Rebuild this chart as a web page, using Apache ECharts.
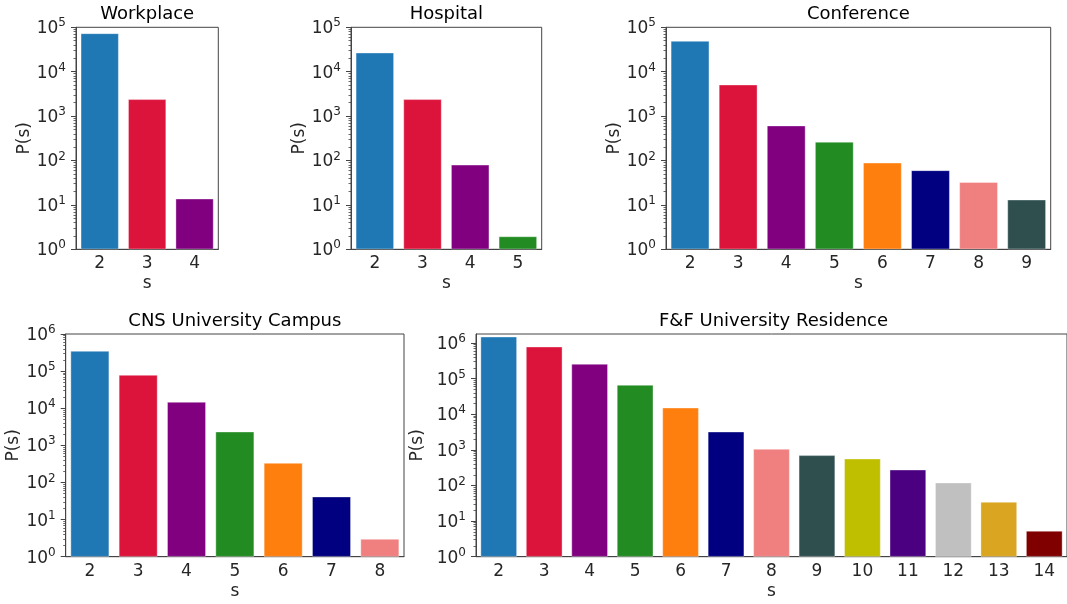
<!DOCTYPE html>
<html>
<head>
<meta charset="utf-8">
<title>Group size distributions P(s)</title>
<script src="https://cdn.jsdelivr.net/npm/echarts@6/dist/echarts.min.js"></script>
<style>
  html, body { margin: 0; padding: 0; background: #fff; }
  #chart { width: 1067px; height: 604px; }
</style>
</head>
<body>
<div id="chart"></div>
<script>
// Group sizes s and number of groups P(s) per dataset
const workplaceSizes = ['2', '3', '4'];
const workplaceCounts = [73000, 2390, 13.8];

const hospitalSizes = ['2', '3', '4', '5'];
const hospitalCounts = [26800, 2390, 80, 1.95];

const conferenceSizes = ['2', '3', '4', '5', '6', '7', '8', '9'];
const conferenceCounts = [49000, 5100, 610, 262, 89, 60, 32.5, 13.1];

const cnsSizes = ['2', '3', '4', '5', '6', '7', '8'];
const cnsCounts = [348000, 78500, 14700, 2330, 334, 41.5, 3.0];

const ffSizes = ['2', '3', '4', '5', '6', '7', '8', '9', '10', '11', '12', '13', '14'];
const ffCounts = [1510000, 792000, 259000, 66500, 15300, 3240, 1060, 705, 566, 278, 120, 34.4, 5.3];

// One colour per group size, starting at s = 2
const sizeColors = ['#1f77b4', '#dc143c', '#800080', '#228b22', '#ff7f0e', '#000080',
  '#f08080', '#2f4f4f', '#bfbf00', '#4b0082', '#c0c0c0', '#daa520', '#800000'];

// Upper limits of the P(s) axes
const topRowMax = 1e5;
const cnsMax = 1e6;
const ffMax = 1.8e6;

const FONT = 'DejaVu Sans';
const INK = '#262626';
const SPINE = '#444';
const LABEL_SIZE = 17;

const panels = [
  { title: 'Workplace', sizes: workplaceSizes, counts: workplaceCounts, max: topRowMax,
    box: { left: 76, top: 27.3, width: 142.3, height: 222 }, titleTop: 5.5 },
  { title: 'Hospital', sizes: hospitalSizes, counts: hospitalCounts, max: topRowMax,
    box: { left: 351, top: 27.3, width: 190.7, height: 222 }, titleTop: 5.5 },
  { title: 'Conference', sizes: conferenceSizes, counts: conferenceCounts, max: topRowMax,
    box: { left: 666, top: 27.3, width: 384.7, height: 222 }, titleTop: 5.5 },
  { title: 'CNS University Campus', sizes: cnsSizes, counts: cnsCounts, max: cnsMax,
    box: { left: 65.7, top: 334, width: 338.3, height: 222.7 }, titleTop: 312 },
  { title: 'F&F University Residence', sizes: ffSizes, counts: ffCounts, max: ffMax,
    box: { left: 476, top: 334, width: 595, height: 222.7 }, titleTop: 312 }
];

// Tick positions along log10 of the value axis
function majorTicks(top) {
  const out = [];
  for (let k = 0; k <= Math.floor(top); k++) out.push(k);
  return out;
}
function minorTicks(top) {
  const out = [];
  for (let k = 0; k <= Math.ceil(top); k++) {
    for (let m = 2; m <= 9; m++) {
      const v = k + Math.log10(m);
      if (v < top) out.push(v);
    }
  }
  return out;
}

const powerLabel = {
  formatter: function (value) {
    const e = Math.round(Math.log10(value));
    return '{b|10}{s|' + e + '}';
  },
  rich: {
    b: { fontFamily: FONT, fontSize: LABEL_SIZE, color: INK, lineHeight: 20, verticalAlign: 'bottom' },
    s: { fontFamily: FONT, fontSize: 12, color: INK, lineHeight: 20, verticalAlign: 'top' }
  }
};

const option = {
  animation: false,
  backgroundColor: '#fff',
  title: [], grid: [], xAxis: [], yAxis: [], series: []
};

panels.forEach(function (p, i) {
  const logTop = Math.log10(p.max);
  option.title.push({
    text: p.title,
    left: p.box.left + p.box.width / 2,
    top: p.titleTop,
    padding: 0,
    textAlign: 'center',
    textStyle: { fontFamily: FONT, fontSize: 18, fontWeight: 'normal', color: '#000' }
  });
  option.grid.push(Object.assign({
    show: true, borderColor: SPINE, borderWidth: 1, containLabel: false
  }, p.box));
  option.xAxis.push({
    type: 'category', gridIndex: i, data: p.sizes,
    name: 's', nameLocation: 'middle', nameGap: 26,
    nameTextStyle: { fontFamily: FONT, fontSize: LABEL_SIZE, color: INK },
    axisLine: { lineStyle: { color: SPINE, width: 1 } },
    axisTick: { alignWithLabel: true, length: 5, lineStyle: { color: SPINE } },
    axisLabel: { fontFamily: FONT, fontSize: LABEL_SIZE, color: INK, margin: 6 }
  });
  // Log-scaled P(s) axis carrying the 10^k labels
  option.yAxis.push({
    type: 'log', logBase: 10, gridIndex: i, min: 1, max: p.max,
    name: 'P(s)', nameLocation: 'middle', nameGap: 42,
    nameTextStyle: { fontFamily: FONT, fontSize: LABEL_SIZE, color: INK },
    axisLine: { show: true, lineStyle: { color: SPINE, width: 1 } },
    axisTick: { show: false },
    splitLine: { show: false },
    axisLabel: Object.assign({ margin: 10, showMaxLabel: Number.isInteger(logTop) }, powerLabel)
  });
  // Major and minor decade ticks on the same edge
  option.yAxis.push({
    type: 'value', gridIndex: i, min: 0, max: logTop, position: 'left',
    axisLine: { show: false }, splitLine: { show: false },
    axisLabel: { show: false },
    axisTick: { show: true, length: 5, customValues: majorTicks(logTop), lineStyle: { color: SPINE } }
  });
  option.yAxis.push({
    type: 'value', gridIndex: i, min: 0, max: logTop, position: 'left',
    axisLine: { show: false }, splitLine: { show: false },
    axisLabel: { show: false },
    axisTick: { show: true, length: 2.5, customValues: minorTicks(logTop), lineStyle: { color: SPINE, width: 0.8 } }
  });
  option.series.push({
    type: 'bar', xAxisIndex: i, yAxisIndex: i * 3,
    barWidth: '80%',
    data: p.counts.map(function (v, j) {
      return { value: v, itemStyle: { color: sizeColors[j], borderColor: 'rgba(255,255,255,0.6)', borderWidth: 0.6 } };
    })
  });
});

const chart = echarts.init(document.getElementById('chart'), null, { renderer: 'canvas' });
chart.setOption(option);
</script>
</body>
</html>
